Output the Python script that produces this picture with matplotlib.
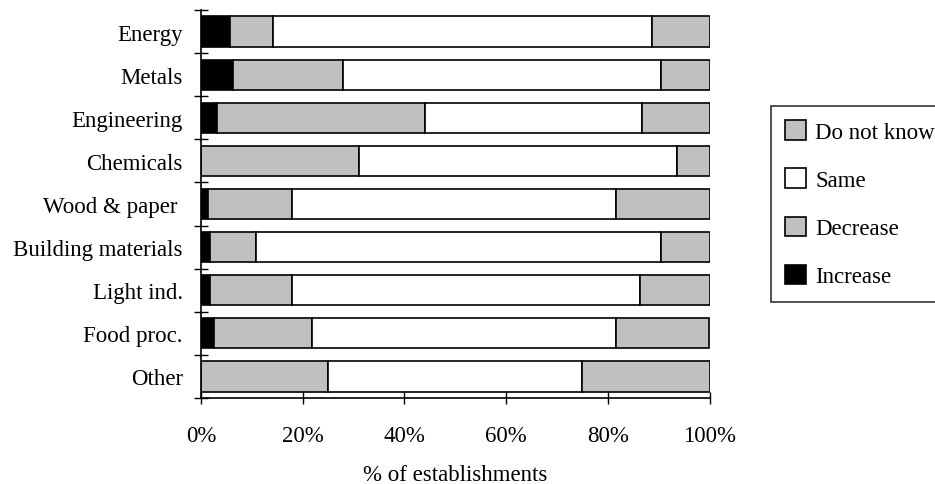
import numpy as np
import matplotlib
matplotlib.use("Agg")
import matplotlib.pyplot as plt
from matplotlib.ticker import FixedLocator, PercentFormatter

plt.rcParams['font.family'] = ['Liberation Serif', 'DejaVu Serif']

# Data (share of establishments, %)
categories = ["Energy", "Metals", "Engineering", "Chemicals", "Wood & paper ",
              "Building materials", "Light ind.", "Food proc.", "Other"]
increase = [5.7, 6.3, 3.1, 0, 1.3, 1.8, 1.8, 2.5, 0]
decrease = [8.4, 21.6, 40.9, 31.1, 16.6, 9.1, 16.1, 19.4, 25]
same = [74.5, 62.6, 42.8, 62.6, 63.8, 79.6, 68.5, 59.8, 50]
dont_know = [11.4, 9.5, 13.2, 6.3, 18.3, 9.5, 13.6, 18.3, 25]

series = [("Increase", increase, "black"),
          ("Decrease", decrease, "#C0C0C0"),
          ("Same", same, "white"),
          ("Do not know", dont_know, "#C0C0C0")]

FS = 16.5

fig = plt.figure(figsize=(9.35, 4.85), dpi=100)
ax = fig.add_axes([201 / 935, 1 - 399 / 485, 508.5 / 935, 388 / 485])

y = np.arange(len(categories))
left = np.zeros(len(categories))
handles = []
for name, vals, col in series:
    vals = np.array(vals, dtype=float)
    h = ax.barh(y, vals, left=left, height=0.7, color=col,
                edgecolor="black", linewidth=1.2, label=name)
    handles.append(h)
    left += vals

ax.set_xlim(0, 100)
ax.set_ylim(len(categories) - 0.5, -0.5)

# category labels sit between the tick marks
ax.yaxis.set_major_locator(FixedLocator(np.arange(-0.5, len(categories), 1.0)))
ax.yaxis.set_minor_locator(FixedLocator(y))
ax.set_yticklabels([], minor=False)
ax.set_yticklabels(categories, minor=True, fontsize=FS)
ax.tick_params(axis="y", which="major", direction="inout", length=10, width=1)
ax.tick_params(axis="y", which="minor", length=0, pad=13)

ax.set_xticks(np.arange(0, 101, 20))
ax.xaxis.set_major_formatter(PercentFormatter(decimals=0))
ax.tick_params(axis="x", direction="inout", length=9, width=1, pad=15,
               labelsize=FS)

for s in ["top", "right"]:
    ax.spines[s].set_visible(False)
ax.spines["left"].set_linewidth(1.2)
ax.spines["bottom"].set_linewidth(1.2)

ax.set_xlabel("% of establishments", fontsize=FS, labelpad=13)

leg = fig.legend(handles[::-1], [s[0] for s in series][::-1],
                 loc="upper left", bbox_to_anchor=(771 / 935, 1 - 107 / 485),
                 borderaxespad=0, frameon=True, fancybox=False,
                 edgecolor="black", fontsize=FS, handlelength=0.92,
                 handleheight=0.92, handletextpad=0.4, labelspacing=1.12,
                 borderpad=0.62)
leg.get_frame().set_linewidth(1.2)

fig.savefig("out.png", dpi=100)
